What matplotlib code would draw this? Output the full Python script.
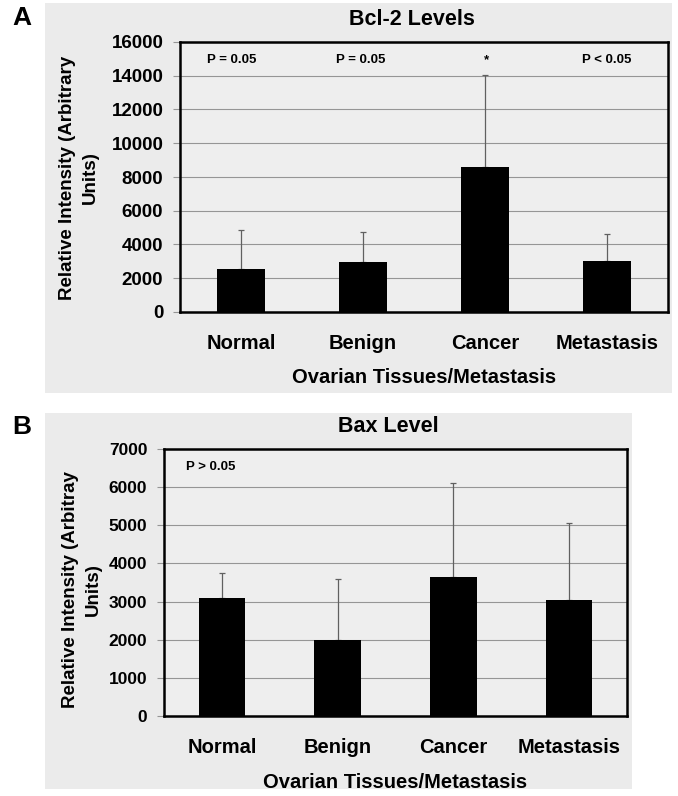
import numpy as np
import matplotlib
matplotlib.use("Agg")
from matplotlib import pyplot as plt
from matplotlib.patches import Rectangle

plt.rcParams['font.family'] = ['Liberation Sans', 'DejaVu Sans']
plt.rcParams['font.weight'] = 'bold'

# data
tissues = ['Normal', 'Benign', 'Cancer', 'Metastasis']
bcl2_mean = [2550, 2950, 8600, 3000]
bcl2_err = [2300, 1800, 5450, 1600]
bcl2_notes = ['P = 0.05', 'P = 0.05', '*', 'P < 0.05']
bax_mean = [3100, 2000, 3650, 3050]
bax_err = [650, 1600, 2450, 2000]
bax_note = 'P > 0.05'

W, H = 678, 796
fig = plt.figure(figsize=(W / 100, H / 100), dpi=100)
bg = '#ebebeb'


def px_rect(x0, y0, x1, y1):
    # pixel box (top-left origin) -> figure fraction
    return [x0 / W, 1 - y1 / H, (x1 - x0) / W, (y1 - y0) / H]


# grey scanned panels
for box in [(45, 3, 672, 393), (45, 413, 632, 789)]:
    l, b, w, h = px_rect(*box)
    fig.patches.append(Rectangle((l, b), w, h, transform=fig.transFigure,
                                 facecolor=bg, edgecolor='none', zorder=-10))


def panel(rect, means, errs, ymax, step, title, title_x, ylabel, ylab_xy, ytick_size):
    ax = fig.add_axes(px_rect(*rect))
    ax.set_facecolor('#eeeeee')
    x = np.arange(len(tissues))
    ax.bar(x, means, width=0.4, color='black', zorder=3)
    ax.errorbar(x, means, yerr=[np.zeros(len(errs)), errs], fmt='none',
                ecolor='#606060', elinewidth=0.9, capsize=2.5, capthick=0.9, zorder=2)
    ax.set_xlim(-0.5, len(tissues) - 0.5)
    ax.set_ylim(0, ymax)
    ax.set_yticks(np.arange(0, ymax + 1, step))
    ax.yaxis.grid(True, color='#959595', linewidth=0.8)
    ax.set_axisbelow(True)
    ax.tick_params(axis='y', length=5, width=0.8, color='#959595',
                   labelsize=ytick_size, pad=7)
    ax.tick_params(axis='x', length=0, labelsize=14.5, pad=16)
    ax.set_xticks(x)
    ax.set_xticklabels(tissues)
    for s in ax.spines.values():
        s.set_linewidth(1.8)
    ax.text(title_x, 1.045, title, transform=ax.transAxes, ha='center', va='bottom',
            fontsize=15.5, fontweight='bold')
    fig.text(ylab_xy[0] / W, 1 - ylab_xy[1] / H, ylabel, rotation=90, ha='center',
             va='center', fontsize=13.5, fontweight='bold', linespacing=1.4)
    ax.set_xlabel('Ovarian Tissues/Metastasis', fontsize=14.5, fontweight='bold', labelpad=11)
    return ax


axA = panel((180, 42, 668, 312), bcl2_mean, bcl2_err, 16000, 2000,
            'Bcl-2 Levels', 0.475, 'Relative Intensity (Arbitrary\nUnits)', (79, 178), 13.5)
note_dx = [-0.08, -0.02, 0.01, 0.0]
for i, note in enumerate(bcl2_notes):
    axA.text(i + note_dx[i], 14950, note, ha='center', va='center', fontsize=9.5,
             fontweight='bold')

axB = panel((164, 449, 627, 716), bax_mean, bax_err, 7000, 1000,
            'Bax Level', 0.484, 'Relative Intensity (Arbitray\nUnits)', (82, 590), 12.5)
axB.text(-0.1, 6530, bax_note, ha='center', va='center', fontsize=9.5, fontweight='bold')

fig.text(22 / W, 1 - 18 / H, 'A', fontsize=19, fontweight='bold', ha='center', va='center')
fig.text(22 / W, 1 - 427 / H, 'B', fontsize=19, fontweight='bold', ha='center', va='center')

fig.savefig('out.png', dpi=100)
